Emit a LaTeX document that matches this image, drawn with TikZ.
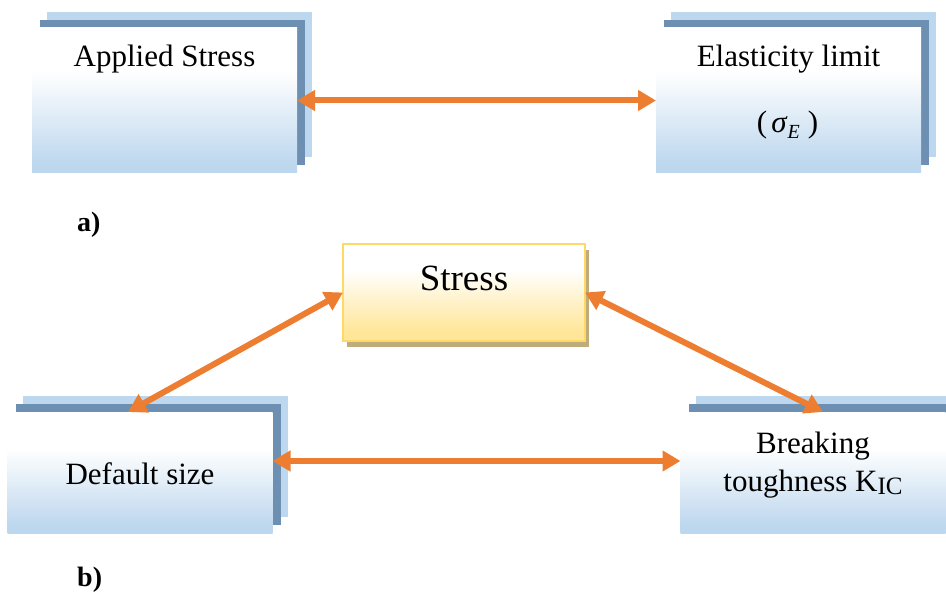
\documentclass[tikz,border=0pt]{standalone}
\usepackage{fontspec}
\setmainfont{LiberationSerif}[Extension=.ttf, UprightFont=*-Regular, BoldFont=*-Bold, ItalicFont=*-Italic, BoldItalicFont=*-BoldItalic]
\usetikzlibrary{arrows.meta,shadows,calc}

\definecolor{paleblue}{HTML}{BDD7EE}
\definecolor{slateblue}{RGB}{109,143,178}
\definecolor{arroworange}{HTML}{ED7D31}
\definecolor{paleyellow}{HTML}{FFE699}
\definecolor{goldline}{HTML}{FFD966}
\definecolor{khaki}{RGB}{190,172,125}

% white upper part fading into the box colour towards the bottom
\pgfdeclareverticalshading{bluefade}{100bp}{color(0bp)=(paleblue); color(28bp)=(paleblue); color(60bp)=(white); color(100bp)=(white)}
\pgfdeclareverticalshading{yellowfade}{100bp}{color(0bp)=(paleyellow); color(30bp)=(paleyellow); color(62bp)=(white); color(100bp)=(white)}

\tikzset{
  stackbox/.style={rectangle, inner sep=0pt, outer sep=0pt,
    minimum width=265pt, minimum height=#1, shading=bluefade,
    general shadow={fill=paleblue, shadow xshift=15pt, shadow yshift=16pt},
    general shadow={fill=slateblue, shadow xshift=8pt, shadow yshift=8pt}},
  stressbox/.style={rectangle, inner sep=0pt, outer sep=0pt,
    minimum width=242pt, minimum height=97pt, shading=yellowfade,
    draw=goldline, line width=1.5pt,
    general shadow={fill=khaki, shadow xshift=4pt, shadow yshift=-6pt}},
  txt/.style={anchor=base, inner sep=0pt, font=\fontsize{31}{36}\selectfont},
  lbl/.style={anchor=base west, inner sep=0pt, font=\fontsize{28}{32}\selectfont\bfseries},
  conn/.style={draw=arroworange, line width=6pt,
    arrows={Triangle[length=18pt,width=20pt]-Triangle[length=18pt,width=20pt]}}
}

\begin{document}
\begin{tikzpicture}[x=1pt,y=-1pt]
  \useasboundingbox (0,0) rectangle (946,596);

  % a) applied stress against the elastic limit
  \node[stackbox=145pt] (applied) at (164.5,100.5) {};
  \node[stackbox=145pt] (elastic) at (788.5,100.5) {};
  \node[txt] (tapplied) at (164.5,67) {Applied Stress};
  \node[txt] (telastic) at (788.5,67) {Elasticity limit};
  \node[txt] (tsigma) at (787.5,133) {(\hspace{4pt}\textit{σ}\raisebox{-6pt}{\fontsize{20}{20}\selectfont\textit{E}}\hspace{8pt})};
  \draw[conn] (applied.east) -- (elastic.west);
  \node[lbl] (la) at (77,232) {a)};

  % b) the fracture triangle
  \node[stressbox] (stress) at (464,292.5) {};
  \node[txt, font=\fontsize{37}{40}\selectfont] (tstress) at (464,291) {Stress};
  \node[stackbox=121pt] (dflt) at (140,472.5) {};
  \node[stackbox=121pt] (brk) at (813,472.5) {};
  \node[txt] (tdflt) at (140,484) {Default size};
  \node[txt] (tbrk1) at (813,453) {Breaking};
  \node[txt] (tbrk2) at (813,491) {toughness K\raisebox{-3pt}{\fontsize{25}{25}\selectfont IC}};
  \draw[conn] (stress.west) -- ([xshift=-12pt]dflt.north);
  \draw[conn] (stress.east) -- ([xshift=10pt]brk.north);
  \draw[conn] ([yshift=11.5pt]dflt.east) -- ([yshift=11.5pt]brk.west);
  \node[lbl] (lb) at (77,586) {b)};
\end{tikzpicture}
\end{document}
